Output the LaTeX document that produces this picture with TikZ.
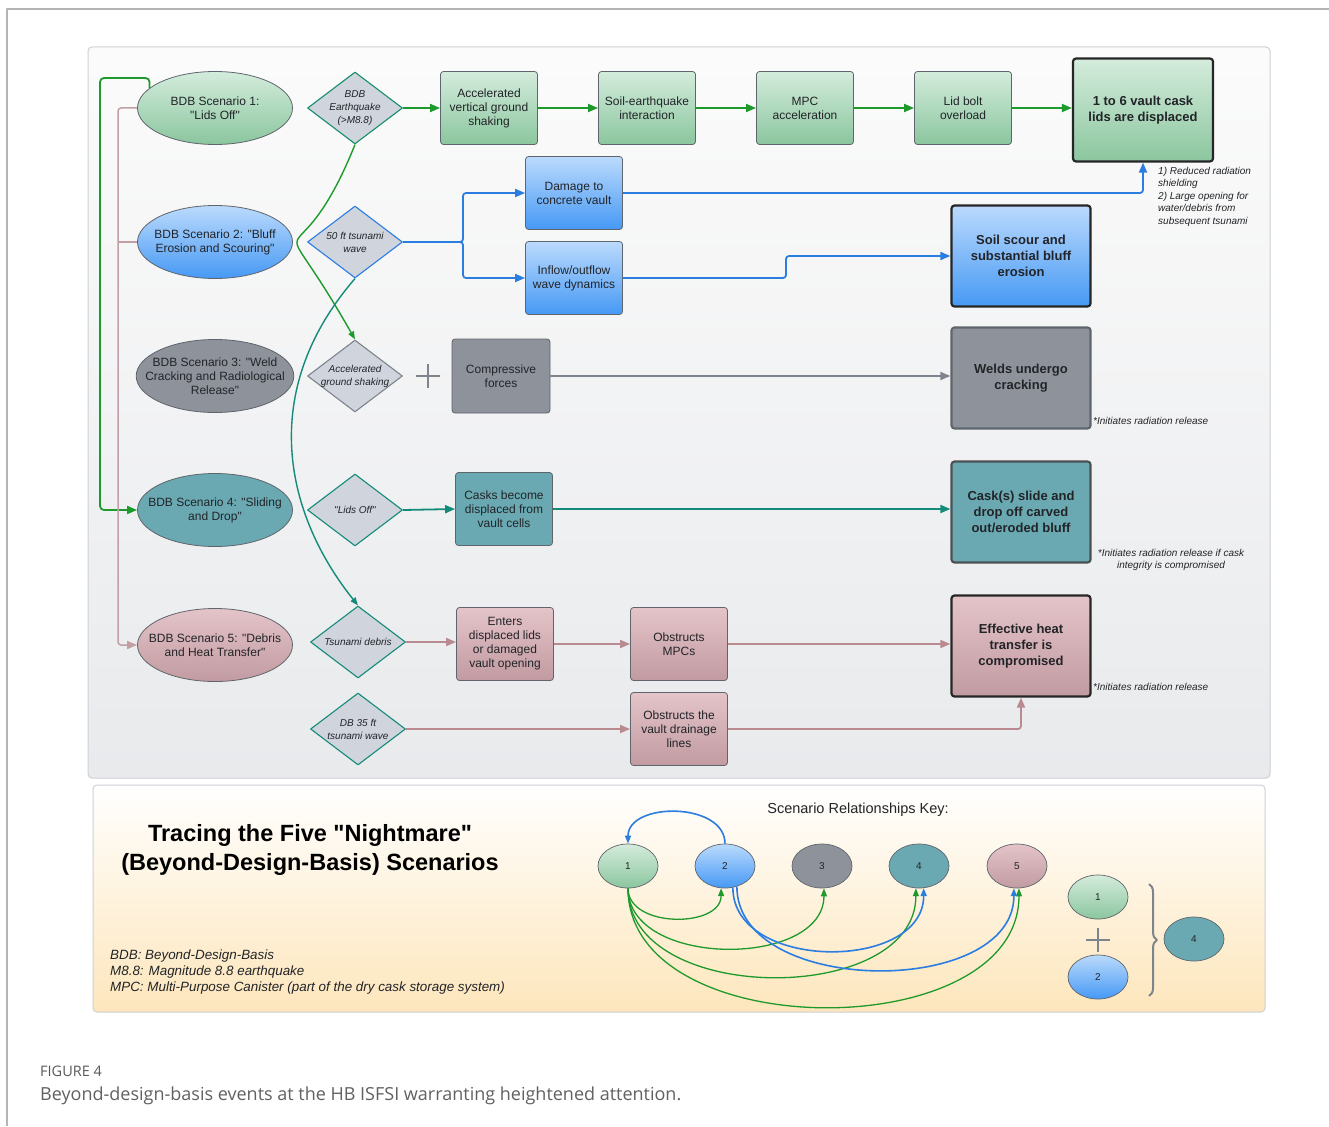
\documentclass[tikz,border=0pt]{standalone}
\usepackage{fontspec}
\setmainfont{Liberation Sans}[Ligatures=TeXOff]
\newfontfamily\legende{Open Sans}
\usetikzlibrary{shapes.geometric,arrows.meta,decorations.pathreplacing}

% Couleurs
\definecolor{txt}{HTML}{222428}
\definecolor{bord}{HTML}{5F656C}
\definecolor{losange}{HTML}{CFD4DD}
\definecolor{vertF}{HTML}{1E9A2C}
\definecolor{bleuF}{HTML}{2B7DE0}
\definecolor{grisF}{HTML}{7E848D}
\definecolor{tealF}{HTML}{148B78}
\definecolor{roseF}{HTML}{BA8A91}
\definecolor{roseL}{HTML}{C29FA4}
\definecolor{vertH}{HTML}{D4ECDC}
\definecolor{vertB}{HTML}{8BC69E}
\definecolor{bleuH}{HTML}{BBDAFC}
\definecolor{bleuB}{HTML}{4699F5}
\definecolor{grisS}{HTML}{8E939B}
\definecolor{sarcelle}{HTML}{6AA9B2}
\definecolor{roseH}{HTML}{E4C4C9}
\definecolor{roseB}{HTML}{C19BA1}
\definecolor{panneau}{HTML}{CDD0D5}
\definecolor{creme}{HTML}{FDE6BC}
\definecolor{cadre}{HTML}{B4B4B4}

\tikzset{
  fondvert/.style={top color=vertH, bottom color=vertB},
  fondbleu/.style={top color=bleuH, bottom color=bleuB},
  fondgris/.style={fill=grisS},
  fondteal/.style={fill=sarcelle},
  fondrose/.style={top color=roseH, bottom color=roseB},
  scen/.style={ellipse, draw=bord, line width=0.8pt, minimum width=155pt, minimum height=73pt,
    inner xsep=-14pt, inner ysep=0pt, align=center, text=txt, font=\fontsize{12}{14}\selectfont},
  choix/.style={diamond, line width=1.1pt, fill=losange, minimum width=95pt, minimum height=72pt,
    aspect=1.32, inner sep=-4pt, align=center, text=txt, font=\fontsize{10}{13}\selectfont\itshape},
  boite/.style={rectangle, rounded corners=3pt, draw=bord, line width=0.8pt, minimum width=97pt,
    minimum height=73pt, align=center, text=txt, font=\fontsize{12}{14}\selectfont},
  final/.style={rectangle, rounded corners=3pt, draw=black!85, line width=2.2pt, minimum width=139pt,
    minimum height=101pt, align=center, text=txt, font=\fontsize{13}{16}\selectfont\bfseries},
  note/.style={inner sep=0pt, text=txt, font=\fontsize{10}{12.5}\selectfont\itshape},
  cle/.style={ellipse, draw=bord, line width=0.7pt, minimum width=60pt, minimum height=44pt,
    inner sep=0pt, text=txt, font=\fontsize{10}{12}\selectfont},
  fl/.style={line width=1.8pt, rounded corners=3pt, -{Triangle[length=10pt,width=8pt]}},
  flc/.style={line width=1.3pt, -{Triangle[length=8pt,width=6pt]}},
}

\begin{document}
\begin{tikzpicture}[x=1pt, y=-1pt, line join=round]
  \useasboundingbox (0,0) rectangle (1329,1126);
  \fill[white] (0,0) rectangle (1329,1126);

  % Cadre et panneaux
  \draw[cadre, line width=1.5pt] (7,1126) -- (7,9) -- (1329,9);
  \draw[panneau, line width=1pt, rounded corners=4pt, top color=gray!3, bottom color=panneau!45]
    (88,47) rectangle (1270,778);
  \draw[panneau, line width=1pt, rounded corners=4pt, top color=white, bottom color=creme]
    (93,785) rectangle (1265,1012);

  % Scenarios
  \node[scen, fondvert] (s1) at (215,108) {BDB Scenario 1:\\"Lids Off"};
  \node[scen, fondbleu] (s2) at (215,242) {BDB Scenario 2: "Bluff\\Erosion and Scouring"};
  \node[scen, fondgris] (s3) at (215,376) {BDB Scenario 3: "Weld\\Cracking and Radiological\\Release"};
  \node[scen, fondteal] (s4) at (215,510) {BDB Scenario 4: "Sliding\\and Drop"};
  \node[scen, fondrose] (s5) at (215,645) {BDB Scenario 5: "Debris\\and Heat Transfer"};

  % Losanges
  \node[choix, draw=tealF!80!vertF] (d1) at (355,108) {BDB\\Earthquake\\(>M8.8)};
  \node[choix, draw=bleuF] (d2) at (355,242) {50 ft tsunami\\wave};
  \node[choix, draw=grisF] (d3) at (355,376) {Accelerated\\ground shaking};
  \node[choix, draw=tealF] (d4) at (355,510) {"Lids Off"};
  \node[choix, draw=tealF] (d5) at (358,642) {Tsunami debris};
  \node[choix, draw=tealF] (d6) at (358,729) {DB 35 ft\\tsunami wave};

  % Ligne 1
  \node[boite, fondvert] (b11) at (489,108) {Accelerated\\vertical ground\\shaking};
  \node[boite, fondvert] (b12) at (647,108) {Soil-earthquake\\interaction};
  \node[boite, fondvert] (b13) at (805,108) {MPC\\acceleration};
  \node[boite, fondvert] (b14) at (963,108) {Lid bolt\\overload};
  \node[final, fondvert, minimum width=140pt, minimum height=103pt] (r1) at (1143,110) {1 to 6 vault cask\\lids are displaced};

  % Ligne 2
  \node[boite, fondbleu] (b21) at (574,193) {Damage to\\concrete vault};
  \node[boite, fondbleu] (b22) at (574,278) {Inflow/outflow\\wave dynamics};
  \node[final, fondbleu] (r2) at (1021,256) {Soil scour and\\substantial bluff\\erosion};

  % Ligne 3
  \node[boite, fondgris, minimum width=98pt, minimum height=74pt] (b31) at (501,376) {Compressive\\forces};
  \node[final, fondgris, draw=bord] (r3) at (1021,378) {Welds undergo\\cracking};

  % Ligne 4
  \node[boite, fondteal] (b41) at (504,509) {Casks become\\displaced from\\vault cells};
  \node[final, fondteal, draw=bord!80!black] (r4) at (1021,512) {Cask(s) slide and\\drop off carved\\out/eroded bluff};

  % Ligne 5
  \node[boite, fondrose] (b51) at (505,644) {Enters\\displaced lids\\or damaged\\vault opening};
  \node[boite, fondrose] (b52) at (679,644) {Obstructs\\MPCs};
  \node[final, fondrose] (r5) at (1021,646) {Effective heat\\transfer is\\compromised};
  \node[boite, fondrose] (b53) at (679,729) {Obstructs the\\vault drainage\\lines};

  % Notes
  \node[note, anchor=north west, align=left] (n1) at (1158,167)
    {1) Reduced radiation\\shielding\\2) Large opening for\\water/debris from\\subsequent tsunami};
  \node[note, anchor=west] (n3) at (1093,421) {*Initiates radiation release};
  \node[note, align=center] (n4) at (1171,560) {*Initiates radiation release if cask\\integrity is compromised};
  \node[note, anchor=west] (n5) at (1093,687) {*Initiates radiation release};

  % Fleches ligne 1
  \draw[fl, vertF] (d1.east) -- (b11.west);
  \draw[fl, vertF] (b11.east) -- (b12.west);
  \draw[fl, vertF] (b12.east) -- (b13.west);
  \draw[fl, vertF] (b13.east) -- (b14.west);
  \draw[fl, vertF] (b14.east) -- (r1.west |- b14.east);

  % Fleches ligne 2
  \coordinate (sep) at (463,242);
  \draw[fl, bleuF] (d2.east) -- (sep) |- (b21.west);
  \draw[fl, bleuF] (d2.east) -- (sep) |- (b22.west);
  \draw[fl, bleuF] (b21.east) -| (r1.south);
  \draw[fl, bleuF] (b22.east) -| (786,256) -- (r2.west);

  % Fleches lignes 3 a 5
  \draw[grisF, line width=2pt] (416,376) -- (440,376) (428,364) -- (428,388);
  \draw[fl, grisF] (b31.east) -- (r3.west |- b31.east);
  \draw[fl, tealF] (d4.east) -- (b41.west);
  \draw[fl, tealF] (b41.east) -- (r4.west |- b41.east);
  \draw[fl, roseF] (d5.east) -- (b51.west |- d5.east);
  \draw[fl, roseF] (b51.east) -- (b52.west);
  \draw[fl, roseF] (b52.east) -- (r5.west |- b52.east);
  \draw[fl, roseF] (d6.east) -- (b53.west |- d6.east);
  \draw[fl, roseF] (b53.east) -| (r5.south);

  % Courbes entre losanges
  \draw[flc, line width=1.4pt, vertF] (d1.south) .. controls (293,299) and (265,181) .. (d3.north);
  \draw[flc, line width=1.4pt, tealF] (d2.south) .. controls (257,392) and (285,514) .. (d5.north);

  % Liens a gauche
  \draw[fl, vertF, rounded corners=4pt] (s1.163) |- (100,78) |- (s4.west);
  \coordinate (gauche) at (118,645);
  \draw[fl, roseL, line width=1.5pt] (s1.west) -| (gauche) -- (s5.west);
  \draw[roseL, line width=1.5pt] (s2.west) -- (s2.west -| gauche);

  % Titre et abreviations
  \node[text=black, align=center, font=\fontsize{23.5}{29}\selectfont\bfseries] (titre) at (310,850)
    {Tracing the Five "Nightmare"\\(Beyond-Design-Basis) Scenarios};
  \node[note, anchor=north west, align=left, font=\fontsize{13.4}{16}\selectfont\itshape] (abr) at (110,950)
    {BDB: Beyond-Design-Basis\\M8.8: Magnitude 8.8 earthquake\\MPC: Multi-Purpose Canister (part of the dry cask storage system)};

  % Cle des relations
  \node[text=txt, font=\fontsize{14.5}{16}\selectfont] (ktitre) at (858,810) {Scenario Relationships Key:};
  \foreach \n/\x/\f in {1/628/fondvert, 2/725/fondbleu, 3/822/fondgris, 4/919/fondteal, 5/1017/fondrose}
    \node[cle, \f] (k\n) at (\x,866) {\n};

  \draw[flc, bleuF, line width=1.6pt] (k2.north) .. controls +(0,-42) and +(0,-42) .. (k1.north);
  \draw[flc, vertF] (k1.south) .. controls +(0,40) and +(0,40) .. (k2.260);
  \draw[flc, vertF] (k1.south) .. controls +(0,80) and +(0,80) .. (k3.275);
  \draw[flc, vertF] (k1.south) .. controls +(0,118) and +(0,118) .. (k4.262);
  \draw[flc, vertF] (k1.south) .. controls +(0,158) and +(0,158) .. (k5.275);
  \draw[flc, bleuF, line width=1.6pt] (k2.290) .. controls +(0,84) and +(0,84) .. (k4.282);
  \draw[flc, bleuF, line width=1.6pt] (k2.300) .. controls +(0,110) and +(0,110) .. (k5.262);

  % Combinaison 1 + 2 = 4
  \node[cle, fondvert] (ka1) at (1098,897) {1};
  \node[cle, fondbleu] (ka2) at (1098,977) {2};
  \node[cle, fondteal] (ka4) at (1194,939) {4};
  \draw[grisF, line width=2pt] (1086,940) -- (1110,940) (1098,928) -- (1098,952);
  \draw[grisF, line width=2pt, decorate, decoration={brace, amplitude=8pt}] (1149,884) -- (1149,996);

  % Legende
  \node[anchor=base west, inner sep=0pt, text=black!65, font=\legende\fontsize{14.5}{16}\selectfont] (fig) at (40,1076) {FIGURE 4};
  \node[anchor=base west, inner sep=0pt, text=black!62, font=\legende\fontsize{18}{21}\selectfont] (cap) at (40,1100)
    {Beyond-design-basis events at the HB ISFSI warranting heightened attention.};
\end{tikzpicture}
\end{document}
